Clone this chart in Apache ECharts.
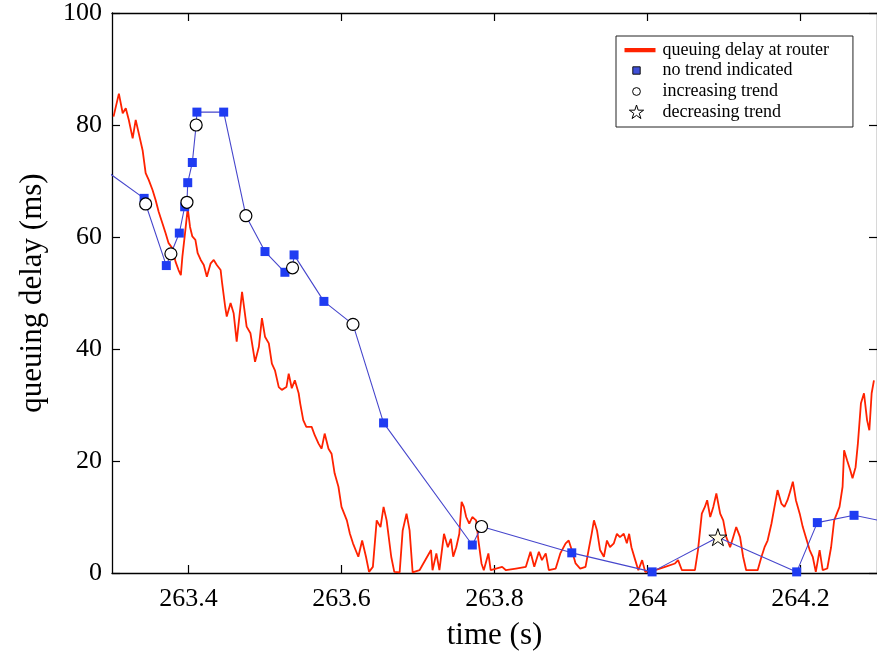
<!DOCTYPE html>
<html>
<head>
<meta charset="utf-8">
<script src="https://cdn.jsdelivr.net/npm/echarts@6/dist/echarts.min.js"></script>
<style>html,body{margin:0;padding:0;background:#fff;}#chart{width:877px;height:662px;}</style>
</head>
<body>
<div id="chart"></div>
<script>
// ---- data ----
const timeTicks = [263.4, 263.6, 263.8, 264, 264.2];
const delayTicks = [0, 20, 40, 60, 80, 100];

const routerTime = [263.302,263.309,263.314,263.318,263.322,263.327,263.331,263.335,263.340,263.344,263.348,263.353,263.357,263.361,263.366,263.370,263.374,263.379,263.383,263.387,263.390,263.392,263.395,263.399,263.402,263.405,263.409,263.412,263.416,263.420,263.424,263.429,263.433,263.437,263.442,263.444,263.448,263.450,263.455,263.459,263.463,263.470,263.476,263.481,263.487,263.492,263.496,263.500,263.505,263.509,263.513,263.518,263.522,263.528,263.531,263.535,263.539,263.544,263.546,263.550,263.554,263.561,263.565,263.570,263.574,263.578,263.583,263.587,263.591,263.596,263.600,263.607,263.611,263.615,263.622,263.627,263.632,263.636,263.641,263.646,263.651,263.655,263.659,263.665,263.669,263.676,263.680,263.685,263.689,263.693,263.702,263.717,263.719,263.724,263.728,263.734,263.739,263.743,263.746,263.750,263.754,263.757,263.760,263.763,263.767,263.771,263.776,263.779,263.783,263.786,263.792,263.795,263.802,263.810,263.815,263.828,263.841,263.847,263.852,263.858,263.862,263.867,263.871,263.880,263.886,263.893,263.897,263.901,263.906,263.912,263.919,263.923,263.927,263.930,263.934,263.938,263.943,263.947,263.951,263.956,263.960,263.964,263.969,263.973,263.976,263.979,263.984,263.988,263.993,263.997,264.010,264.023,264.036,264.040,264.045,264.062,264.066,264.071,264.075,264.078,264.082,264.086,264.090,264.095,264.099,264.103,264.108,264.112,264.116,264.121,264.125,264.129,264.144,264.149,264.153,264.157,264.162,264.166,264.170,264.175,264.179,264.183,264.187,264.190,264.194,264.199,264.203,264.207,264.212,264.216,264.220,264.225,264.229,264.235,264.240,264.244,264.251,264.255,264.257,264.261,264.265,264.268,264.272,264.275,264.279,264.283,264.287,264.290,264.293,264.296];
const routerDelay = [81.5,85.6,82.1,83.0,80.9,77.6,80.9,78.5,75.5,71.4,70.2,68.4,66.6,64.5,62.4,60.7,58.9,58.0,55.6,54.1,53.2,56.5,60.1,65.1,61.8,60.1,59.5,57.1,55.9,55.0,52.9,55.3,55.9,55.0,54.1,51.7,47.5,45.8,48.2,46.4,41.3,50.2,44.0,42.8,37.7,40.4,45.5,42.2,41.0,37.4,36.2,33.2,32.7,33.2,35.6,33.0,34.4,32.1,30.3,27.3,26.1,26.1,24.6,23.1,22.2,24.9,22.2,21.3,17.8,15.4,11.8,9.4,7.0,5.3,2.9,5.8,2.9,0.2,1.1,9.4,8.2,11.8,9.4,2.9,0.2,0.1,7.6,10.6,7.6,0.1,0.5,4.1,0.5,3.5,0.5,7.0,4.6,6.1,2.9,4.6,7.0,12.7,11.8,10.0,8.8,10.0,9.4,5.8,1.7,0.5,3.5,0.5,0.8,1.1,0.5,0.8,1.1,3.8,1.1,3.8,2.3,3.5,0.5,0.8,3.5,5.3,5.8,4.1,1.7,0.8,1.1,4.1,7.0,9.4,7.6,4.1,2.9,5.8,4.6,5.3,7.0,6.4,7.0,5.3,7.0,4.6,2.3,0.5,2.3,0.2,0.5,1.1,1.7,2.3,0.5,0.5,4.1,10.6,11.8,13.0,10.0,11.8,14.2,10.6,9.4,6.4,4.6,6.4,8.2,6.4,2.9,0.5,0.5,2.9,4.6,5.8,8.8,11.8,14.8,12.4,11.8,13.0,14.8,16.3,13.0,10.6,8.2,6.4,4.1,2.9,0.2,4.1,0.5,0.8,4.6,9.4,11.8,15.4,21.9,20.1,18.4,16.9,18.9,23.1,30.3,32.1,27.3,25.5,32.1,34.4];

// delay estimates from probes and their trend classification
const probeTime  = [263.342,263.344,263.371,263.377,263.388,263.395,263.398,263.399,263.405,263.410,263.411,263.446,263.475,263.500,263.526,263.536,263.538,263.577,263.615,263.655,263.771,263.783,263.901,264.006,264.092,264.195,264.222,264.270];
const probeDelay = [66.9,65.9,54.9,57.0,60.7,65.4,66.2,69.7,73.3,80.0,82.3,82.3,63.8,57.4,53.7,54.5,56.8,48.5,44.4,26.8,5.0,8.3,3.6,0.2,6.4,0.2,9.0,10.3];
const probeTrend = ['none','inc','none','inc','none','none','inc','none','none','inc','none','none','inc','none','none','inc','none','none','inc','none','none','inc','none','none','dec','none','none','none'];
// estimates just outside the visible window (line enters/leaves the frame)
const edgeTime  = [263.28, 264.31];
const edgeDelay = [73.0, 9.2];

const seriesNames = ['queuing delay at router', 'no trend indicated', 'increasing trend', 'decreasing trend'];

// ---- build ----
const routerData = routerTime.map((t, i) => [t, routerDelay[i]]);
const probeLine = [[edgeTime[0], edgeDelay[0]]]
  .concat(probeTime.map((t, i) => [t, probeDelay[i]]))
  .concat([[edgeTime[1], edgeDelay[1]]]);
const pick = (k) => probeTime.map((t, i) => [t, probeDelay[i], probeTrend[i]]).filter(d => d[2] === k).map(d => [d[0], d[1]]);

const STAR = 'path://M12,1.5L13.69,6.68L19.13,6.68L14.73,9.89L16.41,15.07L12,11.87L7.59,15.07L9.27,9.89L4.87,6.68L10.31,6.68Z';
const SERIF = '"Liberation Serif","DejaVu Serif",serif';

const chart = echarts.init(document.getElementById('chart'), null, {renderer: 'canvas'});
const axisLineStyle = {color: '#000', width: 1.3};
chart.setOption({
  animation: false,
  backgroundColor: '#fff',
  grid: {left: 112, top: 13, right: -3.5, bottom: 89, containLabel: false},
  legend: {
    orient: 'vertical', left: 616, top: 36,
    padding: [5, 24, 5, 8], itemGap: 2,
    itemWidth: 33, itemHeight: 18,
    backgroundColor: '#fff', borderColor: '#222', borderWidth: 1,
    selectedMode: false,
    textStyle: {fontFamily: SERIF, fontSize: 18, color: '#000'},
    data: [
      {name: seriesNames[0], icon: 'path://M0,0M0,7L31,7L31,11.2L0,11.2ZM33,18', itemStyle: {color: '#ff2200', borderWidth: 0}},
      {name: seriesNames[1], icon: 'path://M0,0M8.3,5.3L15.7,5.3L15.7,12.7L8.3,12.7ZM33,18', itemStyle: {color: '#3f4fd8', borderColor: '#111', borderWidth: 1}},
      {name: seriesNames[2], icon: 'path://M0,0M8.1,9A3.9,3.9,0,1,1,15.9,9A3.9,3.9,0,1,1,8.1,9ZM33,18', itemStyle: {color: '#fff', borderColor: '#000', borderWidth: 1}},
      {name: seriesNames[3], icon: 'path://M0,0M12,1.5L13.69,6.68L19.13,6.68L14.73,9.89L16.41,15.07L12,11.87L7.59,15.07L9.27,9.89L4.87,6.68L10.31,6.68ZM33,18', itemStyle: {color: '#fff', borderColor: '#000', borderWidth: 1}}
    ]
  },
  xAxis: [
    {
      type: 'value', min: 263.3, max: 264.3, position: 'bottom',
      name: 'time (s)', nameLocation: 'middle', nameGap: 47,
      nameTextStyle: {fontFamily: SERIF, fontSize: 31, color: '#000'},
      axisLine: {show: true, onZero: false, lineStyle: axisLineStyle},
      axisTick: {show: true, inside: true, length: 8, lineStyle: {color: '#000', width: 1.2}, customValues: timeTicks},
      axisLabel: {show: true, margin: 13, fontFamily: SERIF, fontSize: 26, color: '#000', customValues: timeTicks},
      splitLine: {show: false}
    },
    {
      type: 'value', min: 263.3, max: 264.3, position: 'top',
      axisLine: {show: true, onZero: false, lineStyle: axisLineStyle},
      axisTick: {show: true, inside: true, length: 8, lineStyle: {color: '#000', width: 1.2}, customValues: timeTicks},
      axisLabel: {show: false},
      splitLine: {show: false}
    }
  ],
  yAxis: [
    {
      type: 'value', min: 0, max: 100, interval: 20, position: 'left',
      name: 'queuing delay (ms)', nameLocation: 'middle', nameGap: 64,
      nameTextStyle: {fontFamily: SERIF, fontSize: 31, color: '#000'},
      axisLine: {show: true, onZero: false, lineStyle: axisLineStyle},
      axisTick: {show: true, inside: true, length: 8, lineStyle: {color: '#000', width: 1.2}},
      axisLabel: {show: true, margin: 10, fontFamily: SERIF, fontSize: 26, color: '#000',
                  customValues: delayTicks},
      splitLine: {show: false}
    },
    {
      type: 'value', min: 0, max: 100, interval: 20, position: 'right',
      axisLine: {show: true, onZero: false, lineStyle: axisLineStyle},
      axisTick: {show: true, inside: true, length: 8, lineStyle: {color: '#000', width: 1.2}},
      axisLabel: {show: false},
      splitLine: {show: false}
    }
  ],
  series: [
    {
      name: seriesNames[0], type: 'line', xAxisIndex: 0, yAxisIndex: 0,
      data: routerData, showSymbol: false, symbol: 'none', clip: true,
      lineStyle: {color: '#ff2200', width: 1.8}, itemStyle: {color: '#ff2200'}, z: 2
    },
    {
      name: 'probe path', type: 'line', data: probeLine, showSymbol: false, symbol: 'none', clip: true,
      lineStyle: {color: '#4646cc', width: 1.1}, z: 3, legendHoverLink: false
    },
    {
      name: seriesNames[1], type: 'scatter', data: pick('none'), symbol: 'rect', symbolSize: 9,
      itemStyle: {color: '#1f3cf2', opacity: 1}, z: 4
    },
    {
      name: seriesNames[2], type: 'scatter', data: pick('inc'), symbol: 'circle', symbolSize: 12,
      itemStyle: {color: '#fff', borderColor: '#000', borderWidth: 1.2, opacity: 1}, z: 5
    },
    {
      name: seriesNames[3], type: 'scatter', data: pick('dec'), symbol: STAR, symbolSize: 18, symbolKeepAspect: true,
      itemStyle: {color: '#fffbe6', borderColor: '#000', borderWidth: 1, opacity: 1}, z: 6
    }
  ]
});
</script>
</body>
</html>
